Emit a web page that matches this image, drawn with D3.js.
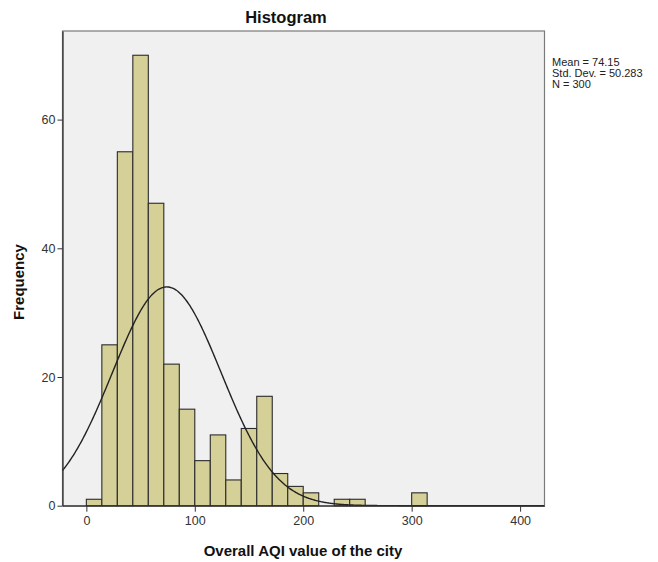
<!DOCTYPE html>
<html><head><meta charset="utf-8">
<script src="https://cdnjs.cloudflare.com/ajax/libs/d3/7.8.5/d3.min.js"></script>
<style>body{margin:0;background:#fff}svg{display:block;font-family:"Liberation Sans",Arial,sans-serif}</style>
</head><body><svg id="c" width="658" height="562"></svg>
<script>
// Data
const binWidth = 300/21;
const counts = [1,25,55,70,47,22,15,7,11,4,12,17,5,3,2,0,1,1,0,0,0,2];
const xTicks = [0,100,200,300,400];
const yTicks = [0,20,40,60];
const meanVal = 74.15, sdVal = 50.283, nVal = 300;
const legendLines = ["Mean = 74.15","Std. Dev. = 50.283","N = 300"];

const svg = d3.select("#c");
const L = 62.5, R = 544.5, T = 31, B = 505.7;
const x = d3.scaleLinear().domain([-22, 422.5]).range([L, R]);
const y = d3.scaleLinear().domain([0, (B - T)/6.435]).range([B, T]);

svg.append("rect").attr("x",L).attr("y",T).attr("width",R-L).attr("height",B-T)
  .attr("fill","#f0f0f0").attr("stroke","#7a7a7a").attr("stroke-width",1.2);

const bins = counts.map((c,i)=>({x0:i*binWidth,x1:(i+1)*binWidth,c}));
svg.append("g").selectAll("rect").data(bins.filter(d=>d.c>0)).join("rect")
  .attr("x",d=>x(d.x0)).attr("width",d=>x(d.x1)-x(d.x0))
  .attr("y",d=>y(d.c)).attr("height",d=>y(0)-y(d.c))
  .attr("fill","#d5cf98").attr("stroke","#2b2b2b").attr("stroke-width",1.1);

// normal curve
const pts = d3.range(-22, 422.6, 1).map(v=>[v, nVal*binWidth/(sdVal*Math.sqrt(2*Math.PI))*Math.exp(-((v-meanVal)**2)/(2*sdVal*sdVal))]);
svg.append("path").datum(pts).attr("fill","none").attr("stroke","#222").attr("stroke-width",1.4)
  .attr("d",d3.line().x(d=>x(d[0])).y(d=>y(d[1])).curve(d3.curveBasis));

// axes
const xa = svg.append("g").attr("transform",`translate(0,${B})`)
  .call(d3.axisBottom(x).tickValues(xTicks).tickSize(6).tickSizeOuter(0).tickPadding(4));
xa.select(".domain").attr("stroke","#333").attr("stroke-width",1.3);
xa.selectAll(".tick line").attr("stroke","#333");
xa.selectAll("text").attr("font-size",12.5).attr("fill","#333").attr("font-family","Liberation Sans, Arial");
const ya = svg.append("g").attr("transform",`translate(${L},0)`)
  .call(d3.axisLeft(y).tickValues(yTicks).tickSize(5).tickSizeOuter(0).tickPadding(2));
ya.select(".domain").attr("stroke","#333").attr("stroke-width",1.3);
ya.selectAll(".tick line").attr("stroke","#333");
ya.selectAll("text").attr("font-size",12.5).attr("fill","#333").attr("font-family","Liberation Sans, Arial");

svg.append("text").attr("x",286).attr("y",23).attr("text-anchor","middle")
  .attr("font-size",16.5).attr("font-weight","bold").attr("fill","#111").text("Histogram");
svg.append("text").attr("x",303).attr("y",556).attr("text-anchor","middle")
  .attr("font-size",15).attr("font-weight","bold").attr("fill","#111").text("Overall AQI value of the city");
svg.append("text").attr("transform","translate(24,282) rotate(-90)").attr("text-anchor","middle")
  .attr("font-size",15).attr("font-weight","bold").attr("fill","#111").text("Frequency");

svg.append("g").selectAll("text").data(legendLines).join("text")
  .attr("x",552).attr("y",(d,i)=>66+i*11).attr("font-size",11).attr("fill","#222").text(d=>d);
</script></body></html>
